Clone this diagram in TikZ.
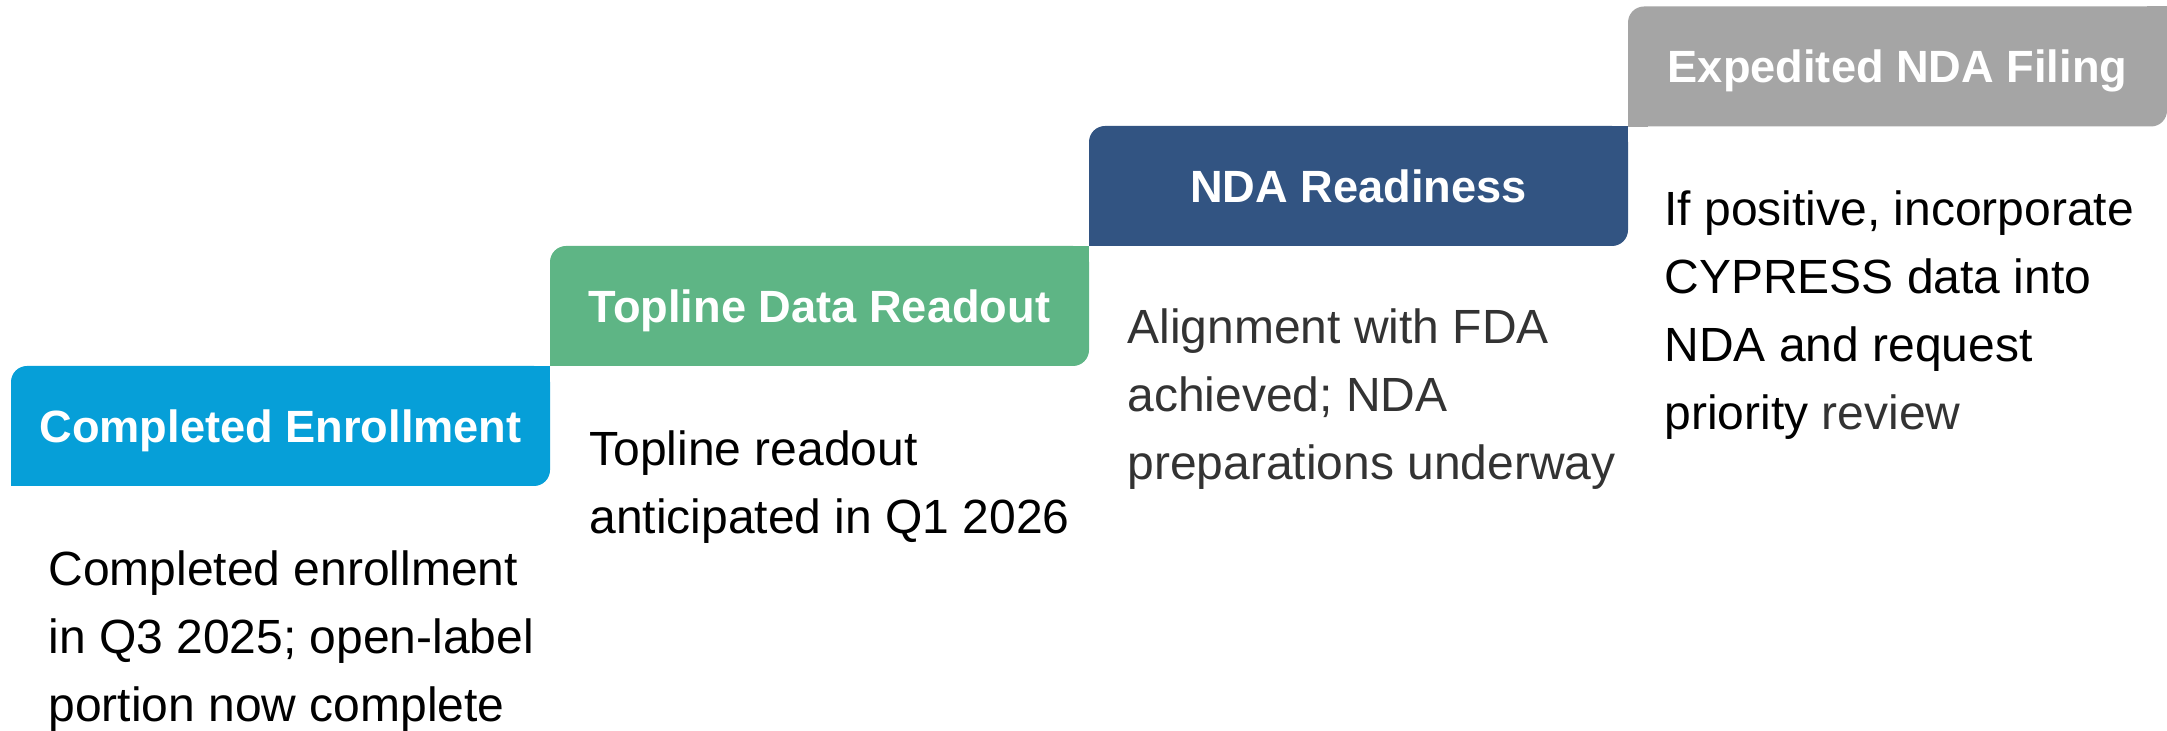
\documentclass[tikz,border=0pt]{standalone}
\usepackage{fontspec}
\setmainfont{Liberation Sans}
\definecolor{cblue}{HTML}{069FD8}
\definecolor{cgreen}{HTML}{5EB585}
\definecolor{cnavy}{HTML}{325482}
\definecolor{cgray}{HTML}{A5A5A5}
\definecolor{tdark}{HTML}{333333}
\tikzset{
  hdr/.style={rounded corners=8pt, minimum width=269.5pt, minimum height=60pt,
    inner sep=0pt, text height=16.2pt, text depth=0pt, text=white,
    font=\fontsize{22.6}{27}\selectfont\bfseries},
  desc/.style={anchor=base west, inner sep=0pt, align=left,
    font=\fontsize{24}{34}\selectfont},
}
\begin{document}
\begin{tikzpicture}[x=0.5pt,y=-0.5pt]
\useasboundingbox (0,0) rectangle (2167,731);
% step boxes
\node[hdr, fill=cblue]  (h1) at (280.5,426) {Completed Enrollment};
\node[hdr, fill=cgreen] (h2) at (819.5,306) {Topline Data Readout};
\node[hdr, fill=cnavy]  (h3) at (1358.5,186) {NDA Readiness};
\node[hdr, fill=cgray]  (h4) at (1897.5,66.5) {Expedited NDA Filing};
% square off top-right and bottom-left corners
\fill[cblue]  (h1.north east) rectangle ++(-20,20);
\fill[cblue]  (h1.south west) rectangle ++(20,-20);
\fill[cgreen] (h2.north east) rectangle ++(-20,20);
\fill[cgreen] (h2.south west) rectangle ++(20,-20);
\fill[cnavy]  (h3.north east) rectangle ++(-20,20);
\fill[cnavy]  (h3.south west) rectangle ++(20,-20);
\fill[cgray]  (h4.north east) rectangle ++(-20,20);
\fill[cgray]  (h4.south west) rectangle ++(20,-20);
% descriptions (base anchor = baseline of the last line)
\node[desc, text=black] (d1) at (48,721) {Completed enrollment\\in Q3 2025; open-label\\portion now complete};
\node[desc, text=black] (d2) at (589,533) {Topline readout\\anticipated in Q1 2026};
\node[desc, text=tdark] (d3) at (1127,480) {Alignment with FDA\\achieved; NDA\\preparations underway};
\node[desc, text=black] (d4) at (1664,430) {If positive, incorporate\\CYPRESS data into\\NDA and request\\priority {\color{tdark}review}};
\end{tikzpicture}
\end{document}
